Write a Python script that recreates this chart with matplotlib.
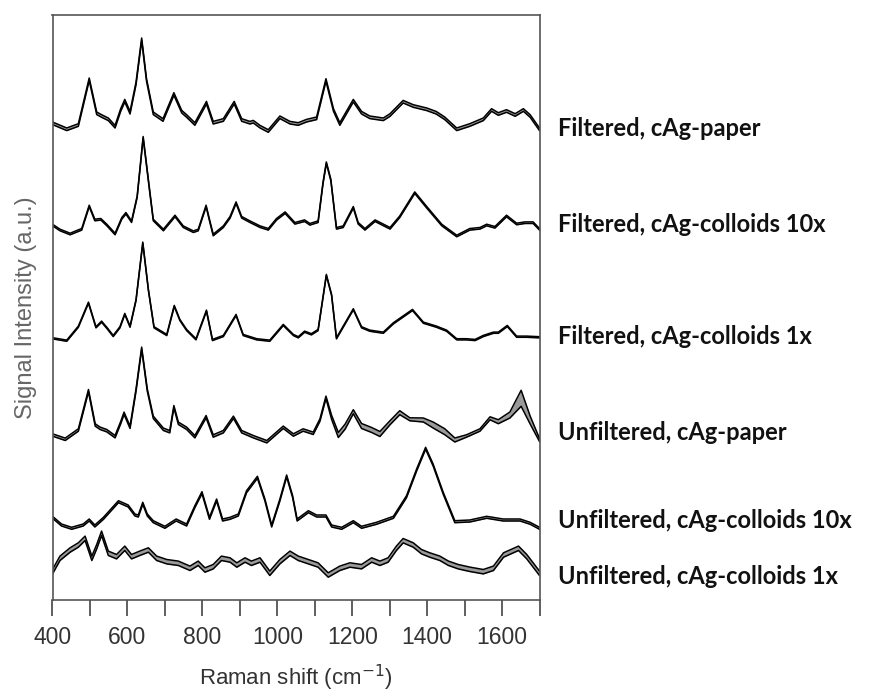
import numpy as np
import matplotlib
matplotlib.use("Agg")
import matplotlib.pyplot as plt
from matplotlib.ticker import MultipleLocator

# Raman spectra (mean +/- spread), stacked with offsets already applied
# values, arbitrary units

labels = [
    "Filtered, cAg-paper",
    "Filtered, cAg-colloids 10x",
    "Filtered, cAg-colloids 1x",
    "Unfiltered, cAg-paper",
    "Unfiltered, cAg-colloids 10x",
    "Unfiltered, cAg-colloids 1x",
]

wn_f_paper = [400, 438, 469, 498, 518, 531, 549, 567, 582, 593, 607, 623, 638, 651, 669,
              695, 724, 745, 758, 780, 811, 829, 856, 885, 905, 927, 936, 954, 976, 1007,
              1034, 1056, 1078, 1105, 1130, 1150, 1167, 1203, 1225, 1247, 1283, 1301, 1336,
              1363, 1399, 1424, 1447, 1479, 1514, 1550, 1572, 1590, 1612, 1635, 1657, 1675, 1700]
y_f_paper = [476.7, 470.7, 475, 520.7, 486.7, 484, 480.7, 473.3, 490, 499.3, 487.3, 516.7,
             560.7, 520, 486.7, 480, 506, 488.3, 484, 476, 497.3, 477.3, 480, 497.3, 480,
             477.3, 478.3, 473.3, 469, 482.7, 477.3, 476, 479.3, 481.7, 520, 490, 476, 499.3,
             487.3, 482.7, 480.7, 485, 498.3, 494, 490.7, 487.3, 481.7, 470.7, 475, 480.7,
             490, 486, 489, 485, 490, 484, 470.7]

wn_f_col10 = [400, 420, 447, 478, 498, 513, 529, 545, 567, 585, 596, 611, 626, 642, 658,
              669, 696, 727, 749, 776, 789, 810, 819, 829, 856, 874, 890, 905, 927, 954,
              976, 998, 1021, 1047, 1073, 1087, 1109, 1122, 1131, 1143, 1158, 1176, 1203,
              1216, 1234, 1261, 1301, 1327, 1367, 1399, 1439, 1479, 1514, 1541, 1559, 1581,
              1612, 1639, 1661, 1683, 1700]
y_f_col10 = [375, 370, 366, 370.7, 394, 380, 380.7, 375, 366, 381.7, 386.7, 378.3, 403.3,
             462.7, 413.3, 380, 370, 384, 373.3, 368.3, 370, 394, 380, 365, 373.3, 382.7,
             397.3, 382.7, 378.3, 373.3, 370.7, 380.7, 387.3, 376.7, 379.3, 375.7, 378.3,
             416.7, 437.3, 420, 371.7, 373.3, 392.7, 376.7, 370.7, 379.3, 371.7, 383.3, 407.3,
             392.7, 375, 364, 370.7, 371.7, 375, 372.7, 384, 376, 377.3, 377.3, 370.7]

wn_f_col1 = [400, 438, 469, 496, 516, 531, 546, 562, 580, 593, 607, 623, 641, 656, 671,
             705, 725, 740, 758, 783, 811, 827, 856, 890, 909, 945, 980, 1016, 1043, 1056,
             1073, 1091, 1109, 1131, 1145, 1158, 1176, 1203, 1225, 1247, 1283, 1310, 1361,
             1390, 1425, 1452, 1479, 1505, 1528, 1550, 1577, 1590, 1614, 1639, 1666, 1700]
y_f_col1 = [261.7, 259.3, 273.3, 297.3, 272.7, 278.3, 271.7, 264, 272.7, 286, 273.3, 300,
            357.3, 310, 272.7, 265, 294, 280, 270, 260.7, 289.3, 260, 264, 285, 265, 260.7,
            259.3, 275, 265, 262.7, 268.3, 265.7, 270, 325, 305, 261.7, 273.3, 290.7, 272.7,
            269.3, 267.3, 276.7, 290, 277.3, 273.3, 269.3, 260.7, 260.7, 260, 264, 267.3,
            267.3, 274, 263.3, 263.3, 262.7]

wn_u_paper = [400, 434, 469, 496, 514, 527, 545, 567, 582, 591, 607, 623, 638, 653, 669,
              696, 713, 724, 736, 758, 780, 810, 829, 856, 883, 905, 936, 972, 1016, 1043,
              1069, 1096, 1114, 1130, 1145, 1163, 1181, 1203, 1225, 1252, 1274, 1301, 1327,
              1354, 1390, 1416, 1447, 1474, 1505, 1541, 1568, 1590, 1621, 1651, 1675, 1700]
y_u_paper = [165, 160.7, 170, 209.3, 175, 171.7, 169.3, 163.3, 177.3, 186.7, 172.7, 210,
             251.7, 210, 182.7, 170.7, 168.3, 193.3, 176.7, 171.7, 163.3, 183.3, 164, 168.3,
             182.7, 168.3, 163.3, 158.3, 172.7, 165, 170, 166.7, 180, 202.7, 182.7, 165,
             173.3, 188.3, 174, 170, 166, 177.3, 187.3, 180.7, 180, 175, 168.3, 160, 164,
             170, 181.7, 178.3, 185, 201.7, 180, 160]

wn_u_col10 = [400, 424, 451, 482, 498, 513, 536, 576, 602, 620, 629, 641, 653, 669, 700,
              730, 758, 780, 799, 819, 838, 854, 874, 896, 918, 947, 967, 985, 1007, 1025,
              1041, 1053, 1083, 1105, 1130, 1145, 1172, 1203, 1225, 1265, 1310, 1345, 1372,
              1396, 1416, 1443, 1474, 1514, 1559, 1603, 1648, 1675, 1700]
y_u_col10 = [82.7, 75, 71.7, 75, 80, 74, 81.7, 98.3, 94, 85, 84, 96.7, 85, 78.3, 72.7, 80,
             75, 93.3, 107.3, 81.7, 100, 80, 81.7, 85, 108.3, 122.7, 100, 74, 100, 124,
             103.3, 80, 88.3, 84, 84, 74, 71.7, 78.3, 72.7, 76.7, 82.7, 103.3, 130, 151.7,
             135, 106.7, 78.3, 79, 82.7, 80, 80, 76.7, 71.7]

wn_u_col1 = [400, 420, 447, 469, 487, 505, 518, 531, 549, 571, 593, 611, 633, 656, 678,
             705, 736, 767, 789, 807, 829, 851, 874, 892, 914, 931, 954, 980, 1007, 1034,
             1056, 1083, 1109, 1136, 1167, 1194, 1225, 1252, 1274, 1296, 1318, 1336, 1363,
             1385, 1407, 1434, 1457, 1483, 1514, 1550, 1577, 1604, 1644, 1666, 1700]
y_u_col1 = [28.3, 41.7, 50, 55, 61.7, 41.7, 53.3, 66.7, 46.7, 43.3, 51.7, 43.3, 46.7, 50,
            41.7, 38.3, 36.7, 31.7, 36.7, 30, 33.3, 41.7, 40, 35, 40, 36.7, 40, 26.7, 38.3,
            46.7, 41.7, 38.3, 35, 25, 31.7, 35, 33.3, 40, 36.7, 40, 51.7, 59.3, 55, 48.3, 45,
            41.7, 36.7, 33.3, 30.7, 28.3, 31.7, 45, 51.7, 43.3, 26.7]

# spread (half width of the grey band) for each spectrum
sd_f_paper = 1.3
sd_f_col10 = 0.8
sd_f_col1 = 0.6
sd_u_paper = [1.2] * 34 + [2.0, 2.5, 2.5, 2.0, 2.5, 2.5, 2.5, 2.0, 2.0, 1.5, 2.0, 3.0,
                           3.0, 2.0, 1.2, 1.2, 1.5, 2.0, 3.0, 8.0, 4.0, 1.5]
sd_u_col10 = 1.0
sd_u_col1 = 2.2

spectra = [
    (wn_f_paper, y_f_paper, sd_f_paper),
    (wn_f_col10, y_f_col10, sd_f_col10),
    (wn_f_col1, y_f_col1, sd_f_col1),
    (wn_u_paper, y_u_paper, sd_u_paper),
    (wn_u_col10, y_u_col10, sd_u_col10),
    (wn_u_col1, y_u_col1, sd_u_col1),
]
label_y = [128, 225, 337, 433, 520, 577]  # pixel rows of the side labels

W, H = 875, 697
fig = plt.figure(figsize=(W / 100, H / 100), dpi=100)
ax = fig.add_axes([52.5 / W, 1 - 600 / H, 487 / W, 585 / H])

for wn, y, sd in spectra:
    wn = np.array(wn)
    y = np.array(y)
    sd = np.broadcast_to(np.array(sd, dtype=float), y.shape)
    ax.fill_between(wn, y - sd, y + sd, color="#9a9a9a", lw=0)
    ax.plot(wn, y + sd, color="black", lw=1.1)
    ax.plot(wn, y - sd, color="black", lw=1.1)

ax.set_xlim(400, 1700)
ax.set_ylim(0, 585)
ax.set_yticks([])
ax.xaxis.set_major_locator(MultipleLocator(200))
ax.xaxis.set_minor_locator(MultipleLocator(100))
ax.tick_params(axis="x", which="both", length=11.5, width=1.2, color="#444444",
               labelsize=16.5, labelcolor="#333333", pad=7.5)
for s in ax.spines.values():
    s.set_color("#555555")
    s.set_linewidth(1.2)

for t in ax.get_xticklabels():
    t.set_family("Liberation Sans")

ax.set_xlabel("Raman shift (cm$^{-1}$)", fontsize=16, color="#333333",
              family="Liberation Sans", labelpad=10)
ax.set_ylabel("Signal Intensity (a.u.)", fontsize=17, color="#666666",
              family="Liberation Sans", labelpad=11)

for lab, py in zip(labels, label_y):
    fig.text(558 / W, 1 - py / H, lab, fontsize=17, fontweight="bold",
             family="Lato", va="center", ha="left", color="#111111")

fig.savefig("out.png", dpi=100)
